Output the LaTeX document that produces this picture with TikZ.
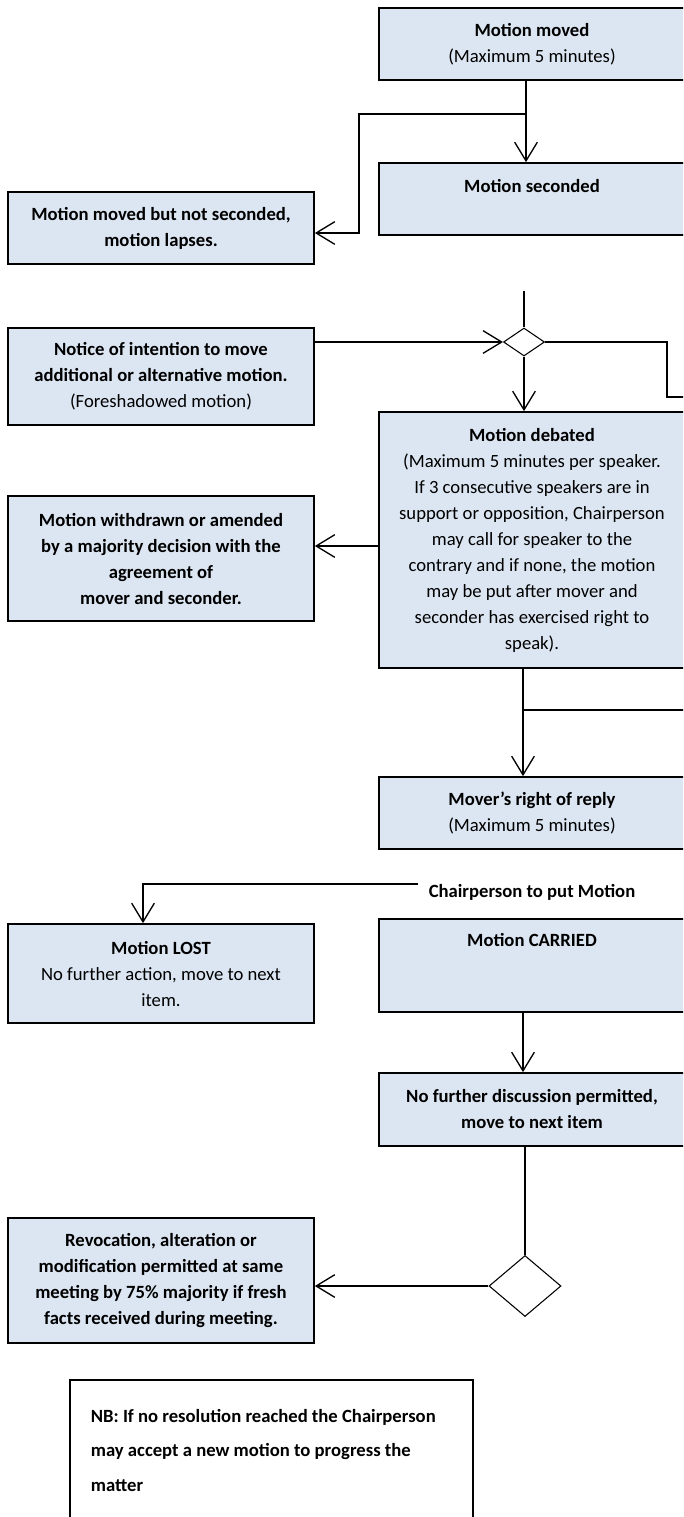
\documentclass[tikz,border=0pt]{standalone}
\usepackage{fontspec}
\setmainfont{Carlito}
\usetikzlibrary{shapes.geometric,arrows.meta}
\definecolor{boxblue}{HTML}{DCE6F2}
\begin{document}
\begin{tikzpicture}[x=0.75pt,y=-0.75pt,
  font=\fontsize{14}{19.5}\selectfont,
  box/.style={draw,line width=1.3pt,fill=boxblue,align=center,minimum width=229.5pt,inner sep=2pt},
  boldbox/.style={box,font=\fontsize{14}{19.5}\selectfont\bfseries},
  link/.style={line width=1pt},
  arr/.style={link,-{Straight Barb[length=14pt,width=17pt]}},
  decision/.style={draw,diamond,line width=0.8pt,fill=white,inner sep=0pt}]
\clip (0,0) rectangle (683,1517);

% right column
\node[box,minimum height=54pt] (moved) at (532,44) {\textbf{Motion moved}\\(Maximum 5 minutes)};
\node[boldbox,minimum height=54pt] (seconded) at (532,199) {Motion seconded\\\mbox{}};
\node[box,minimum height=192pt] (debated) at (532,540) {\textbf{Motion debated}\\
  (Maximum 5 minutes per speaker.\\If 3 consecutive speakers are in\\
  support or opposition, Chairperson\\may call for speaker to the\\
  contrary and if none, the motion\\may be put after mover and\\
  seconder has exercised right to\\speak).};
\node[box,minimum height=54pt] (mover) at (532,813) {\textbf{Mover’s right of reply}\\(Maximum 5 minutes)};
\node[font=\fontsize{14}{19.5}\selectfont\bfseries] (chair) at (532,892) {Chairperson to put Motion};
\node[boldbox,minimum height=69.75pt] (carried) at (532,965.5) {Motion CARRIED\\\mbox{}\\\mbox{}};
\node[boldbox,minimum height=54.75pt] (nofurther) at (532,1109.5) {No further discussion permitted,\\move to next item};

% left column
\node[boldbox,minimum height=54pt] (lapses) at (161,228) {Motion moved but not seconded,\\motion lapses.};
\node[box,minimum height=72.75pt] (notice) at (161,376.5) {\textbf{Notice of intention to move}\\
  \textbf{additional or alternative motion.}\\(Foreshadowed motion)};
\node[boldbox,minimum height=93.75pt] (withdrawn) at (161,558.5) {Motion withdrawn or amended\\
  by a majority decision with the\\agreement of\\mover and seconder.};
\node[box,minimum height=74.25pt] (lost) at (161,973.5) {\textbf{Motion LOST}\\No further action, move to next\\item.};
\node[boldbox,minimum height=93.75pt] (revocation) at (161,1280.5) {Revocation, alteration or\\
  modification permitted at same\\meeting by 75\% majority if fresh\\facts received during meeting.};

% decisions
\node[decision,minimum width=30.75pt,minimum height=21pt] (dia1) at (524,342) {};
\node[decision,minimum width=54pt,minimum height=45.75pt] (dia2) at (525,1286) {};

% note
\node[draw,line width=1.3pt,anchor=north west,align=flush left,text width=270.75pt,
  inner xsep=15.75pt,inner ysep=22pt,font=\fontsize{14}{25.9}\selectfont\bfseries]
  (nb) at (69,1379) {NB: If no resolution reached the Chairperson\\
  may accept a new motion to progress the\\matter\\\mbox{}};

% connectors
\coordinate (top) at (524,291);
\coordinate (splitA) at (526,114);
\coordinate (bendA) at (359,233);
\coordinate (loopA) at (667,397);
\coordinate (outA) at (690,397);
\coordinate (sideB) at (0,546);
\coordinate (splitB) at (523,710);
\coordinate (outB) at (690,710);
\coordinate (chairend) at (418,884);
\coordinate (bendC) at (143,884);

\draw[arr] (moved.south -| splitA) -- (seconded.north -| splitA);
\draw[arr] (splitA) -| (bendA) -- (lapses.east |- bendA);
\draw[link] (top) -- (dia1.north);
\draw[arr] (notice.east |- dia1.west) -- (dia1.west);
\draw[arr] (dia1.south) -- (debated.north -| dia1);
\draw[link] (dia1.east) -| (loopA) -- (outA);
\draw[arr] (debated.west |- sideB) -- (withdrawn.east |- sideB);
\draw[arr] (debated.south -| splitB) -- (mover.north -| splitB);
\draw[link] (splitB) -- (outB);
\draw[arr] (chairend) -- (bendC) -- (lost.north -| bendC);
\draw[arr] (carried.south -| splitB) -- (nofurther.north -| splitB);
\draw[link] (nofurther.south -| dia2) -- (dia2.north);
\draw[arr] (dia2.west) -- (revocation.east |- dia2.west);
\end{tikzpicture}
\end{document}
